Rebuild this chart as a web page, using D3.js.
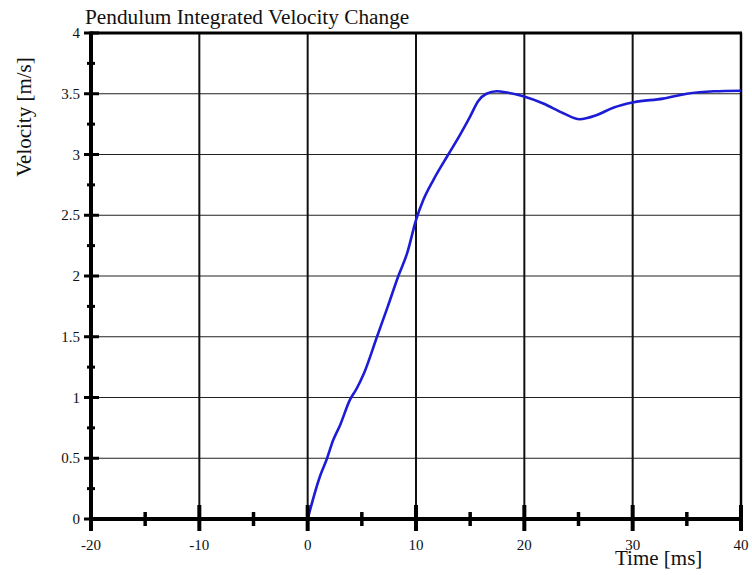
<!DOCTYPE html>
<html>
<head>
<meta charset="utf-8">
<script src="https://cdn.jsdelivr.net/npm/d3@7"></script>
<style>
  body { margin: 0; background: #fff; }
  text { font-family: "Liberation Serif", "Times New Roman", serif; fill: #111; }
</style>
</head>
<body>
<script>
// values
const timeMs = [0, 1.13, 1.75, 2.36, 2.98, 3.9, 4.5, 5.2, 6.4, 7.4, 8.37, 9.19, 10.0, 10.67, 11.6, 12.98,
    14.05, 14.98, 15.75, 16.5, 17.45, 18.4, 19.9, 21.75, 23.6, 25.1, 26.7, 28.2, 30.1, 32.8, 35, 37.5, 40];
const velocity = [0, 0.35, 0.49, 0.65, 0.77, 0.98, 1.07, 1.2, 1.5, 1.75, 2.0, 2.19, 2.46, 2.625, 2.79, 3.0,
    3.16, 3.31, 3.44, 3.5, 3.52, 3.51, 3.48, 3.42, 3.34, 3.29, 3.325, 3.385, 3.43, 3.46, 3.5, 3.52, 3.525];

const xMajorTicks = [-20, -10, 0, 10, 20, 30, 40];
const xMinorTicks = [-15, -5, 5, 15, 25, 35];
const yMajorTicks = [0, 0.5, 1, 1.5, 2, 2.5, 3, 3.5, 4];
const yMinorTicks = [0.25, 0.75, 1.25, 1.75, 2.25, 2.75, 3.25, 3.75];

const width = 752;
const height = 575;
const marginLeft = 91;
const marginRight = 11;
const marginTop = 33;
const marginBottom = 56;

const svg = d3.select('body')
    .append('svg')
    .attr('width', width)
    .attr('height', height);

svg.append('rect').attr('width', width).attr('height', height).attr('fill', '#fff');

const x = d3.scaleLinear().domain([-20, 40]).range([marginLeft, width - marginRight]);
const y = d3.scaleLinear().domain([0, 4]).range([height - marginBottom, marginTop]);

// horizontal grid lines
svg.selectAll('line.hgrid')
    .data(yMajorTicks.filter(d => d > 0 && d < 4))
    .enter()
    .append('line')
    .attr('class', 'hgrid')
    .attr('x1', x(-20)).attr('x2', x(40))
    .attr('y1', d => y(d)).attr('y2', d => y(d))
    .attr('stroke', '#222')
    .attr('stroke-width', 1.2);

// vertical grid lines
svg.selectAll('line.vgrid')
    .data(xMajorTicks.filter(d => d > -20 && d < 40))
    .enter()
    .append('line')
    .attr('class', 'vgrid')
    .attr('x1', d => x(d)).attr('x2', d => x(d))
    .attr('y1', y(0)).attr('y2', y(4))
    .attr('stroke', '#111')
    .attr('stroke-width', 2);

// frame: top and right borders
svg.append('line')
    .attr('x1', x(-20)).attr('x2', x(40) + 1)
    .attr('y1', y(4)).attr('y2', y(4))
    .attr('stroke', '#000').attr('stroke-width', 3);
svg.append('line')
    .attr('x1', x(40)).attr('x2', x(40))
    .attr('y1', y(4)).attr('y2', y(0))
    .attr('stroke', '#000').attr('stroke-width', 2.5);

// the velocity curve
const data = timeMs.map((t, i) => ({ t: t, v: velocity[i] }));
svg.append('path')
    .datum(data)
    .attr('fill', 'none')
    .attr('stroke', '#1c1cd6')
    .attr('stroke-width', 2.6)
    .attr('stroke-linejoin', 'round')
    .attr('d', d3.line().x(d => x(d.t)).y(d => y(d.v)).curve(d3.curveMonotoneX));

// axes
svg.append('line')
    .attr('x1', x(-20)).attr('x2', x(40))
    .attr('y1', y(0)).attr('y2', y(0))
    .attr('stroke', '#000').attr('stroke-width', 4);
svg.append('line')
    .attr('x1', x(-20)).attr('x2', x(-20))
    .attr('y1', y(0) + 2).attr('y2', y(4) - 1.5)
    .attr('stroke', '#000').attr('stroke-width', 4);

// x ticks
svg.selectAll('line.xmajor')
    .data(xMajorTicks)
    .enter()
    .append('line')
    .attr('class', 'xmajor')
    .attr('x1', d => x(d)).attr('x2', d => x(d))
    .attr('y1', y(0) - 14).attr('y2', y(0) + 12)
    .attr('stroke', '#000').attr('stroke-width', 4);
svg.selectAll('line.xminor')
    .data(xMinorTicks)
    .enter()
    .append('line')
    .attr('class', 'xminor')
    .attr('x1', d => x(d)).attr('x2', d => x(d))
    .attr('y1', y(0) - 7).attr('y2', y(0) + 7)
    .attr('stroke', '#000').attr('stroke-width', 3.5);

// y ticks
svg.selectAll('line.ymajor')
    .data(yMajorTicks)
    .enter()
    .append('line')
    .attr('class', 'ymajor')
    .attr('x1', x(-20) - 7).attr('x2', x(-20) + 8)
    .attr('y1', d => y(d)).attr('y2', d => y(d))
    .attr('stroke', '#000').attr('stroke-width', 3);
svg.selectAll('line.yminor')
    .data(yMinorTicks)
    .enter()
    .append('line')
    .attr('class', 'yminor')
    .attr('x1', x(-20) - 4).attr('x2', x(-20) + 4)
    .attr('y1', d => y(d)).attr('y2', d => y(d))
    .attr('stroke', '#000').attr('stroke-width', 3);

// tick labels
svg.selectAll('text.xlabel')
    .data(xMajorTicks)
    .enter()
    .append('text')
    .attr('class', 'xlabel')
    .attr('x', d => x(d))
    .attr('y', y(0) + 31)
    .attr('text-anchor', 'middle')
    .style('font-size', '15px')
    .text(d => d);

svg.selectAll('text.ylabel')
    .data(yMajorTicks)
    .enter()
    .append('text')
    .attr('class', 'ylabel')
    .attr('x', x(-20) - 11)
    .attr('y', d => y(d) + 5)
    .attr('text-anchor', 'end')
    .style('font-size', '15px')
    .text(d => d);

// titles
svg.append('text')
    .attr('x', 85)
    .attr('y', 24)
    .style('font-size', '21.3px')
    .text('Pendulum Integrated Velocity Change');

svg.append('text')
    .attr('x', 615)
    .attr('y', 565)
    .style('font-size', '21px')
    .text('Time [ms]');

svg.append('text')
    .attr('transform', 'translate(31,117) rotate(-90)')
    .attr('text-anchor', 'middle')
    .style('font-size', '21px')
    .text('Velocity [m/s]');
</script>
</body>
</html>
